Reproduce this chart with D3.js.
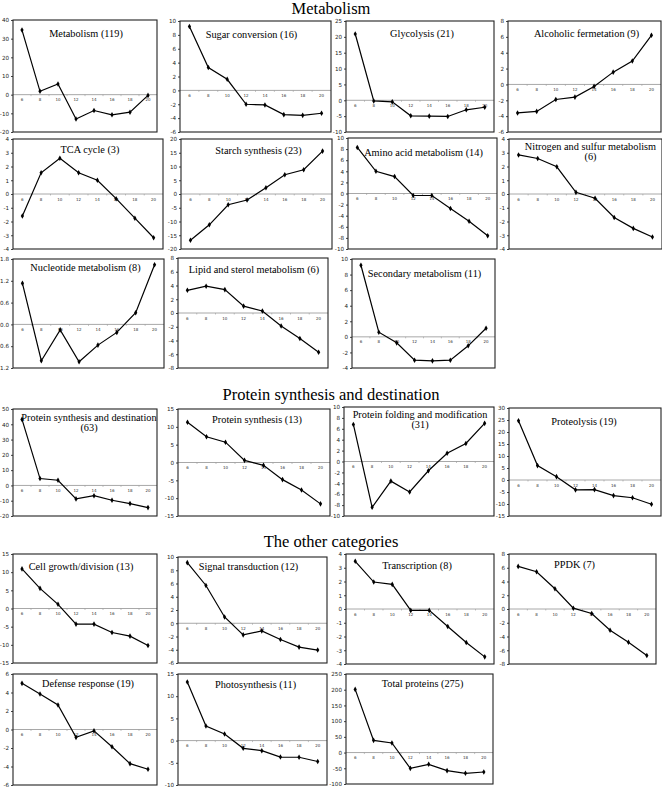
<!DOCTYPE html>
<html><head><meta charset="utf-8">
<script src="https://cdn.jsdelivr.net/npm/d3@7"></script>
<style>body{margin:0;background:#fff}svg{display:block}</style>
</head><body>
<svg id="c" width="662" height="787"></svg>
<script>
// ---- data ----
const timePoints = ["6","8","10","12","14","16","18","20"];
const metabolism   = [34.6, 1.8, 5.7, -13.0, -8.5, -10.8, -9.4, -0.4];
const sugarConv    = [9.2, 3.3, 1.6, -2.0, -2.1, -3.5, -3.6, -3.3];
const glycolysis   = [20.9, -0.2, -0.5, -4.9, -5.0, -5.1, -3.0, -2.2];
const alcoholic    = [-3.6, -3.4, -1.9, -1.6, -0.25, 1.55, 2.95, 6.2];
const tcaCycle     = [-1.6, 1.54, 2.6, 1.54, 1.0, -0.34, -1.76, -3.18];
const starch       = [-16.8, -11.2, -3.9, -2.2, 2.3, 7.0, 8.8, 15.6];
const aminoAcid    = [8.3, 4.0, 3.05, -0.36, -0.36, -2.7, -5.0, -7.6];
const nitrogenSulf = [2.84, 2.58, 1.98, 0.12, -0.31, -1.71, -2.5, -3.13];
const nucleotide   = [1.13, -1.0, -0.15, -1.03, -0.57, -0.22, 0.32, 1.64];
const lipidSterol  = [3.3, 3.9, 3.4, 1.0, 0.3, -1.9, -3.7, -5.7];
const secondary    = [9.2, 0.6, -0.77, -3.0, -3.08, -3.0, -1.15, 1.1];
const protSynDest  = [43.2, 4.5, 3.4, -8.8, -6.7, -9.7, -11.9, -14.5];
const protSynth    = [11.3, 7.2, 5.7, 0.6, -0.8, -4.8, -7.7, -11.6];
const protFolding  = [6.8, -8.4, -3.6, -5.6, -1.7, 1.5, 3.3, 7.0];
const proteolysis  = [24.7, 6.0, 1.4, -4.1, -4.0, -6.5, -7.4, -10.1];
const cellGrowth   = [10.9, 5.55, 1.15, -4.3, -4.3, -6.6, -7.6, -10.2];
const signalTrans  = [9.15, 5.7, 0.95, -1.75, -1.15, -2.45, -3.6, -4.05];
const transcription= [3.47, 1.96, 1.79, -0.1, -0.1, -1.27, -2.44, -3.48];
const ppdk         = [6.2, 5.42, 2.94, 0.12, -0.66, -3.09, -4.84, -6.77];
const defense      = [4.99, 3.84, 2.65, -0.85, -0.15, -1.86, -3.69, -4.3];
const photosynth   = [13.2, 3.3, 1.5, -1.74, -2.27, -3.7, -3.75, -4.7];
const totalProt    = [201, 38.9, 30.4, -50.2, -37.4, -57.5, -66, -61.8];

const sectionTitles = ["Metabolism", "Protein synthesis and destination", "The other categories"];

// ---- layout ----
const sectionY = [14, 400, 547];
const panels = [
  {title:["Metabolism (119)"], v:metabolism, dom:[-20,40], step:10, box:[13,20,157,132], tdx:1, tdy:17},
  {title:["Sugar conversion (16)"], v:sugarConv, dom:[-6,10], step:2, box:[180,21,331,132], tdx:-4, tdy:17},
  {title:["Glycolysis (21)"], v:glycolysis, dom:[-10,25], step:5, box:[346,21,494,132], tdx:2, tdy:16},
  {title:["Alcoholic fermetation (9)"], v:alcoholic, dom:[-6,8], step:2, box:[508,21,661,132], tdx:2, tdy:16},
  {title:["TCA cycle  (3)"], v:tcaCycle, dom:[-4,4], step:1, box:[13,139,163,249], tdx:2, tdy:14},
  {title:["Starch synthesis (23)"], v:starch, dom:[-20,20], step:5, box:[181,139,332,249], tdx:2, tdy:15},
  {title:["Amino acid metabolism (14)"], v:aminoAcid, dom:[-10,10], step:2, box:[348,138,497,249], tdx:1, tdy:18},
  {title:["Nitrogen and sulfur metabolism","(6)"], v:nitrogenSulf, dom:[-4,4], step:1, box:[509,139,662,249], tdx:5, tdy:11},
  {title:["Nucleotide metabolism (8)"], v:nucleotide, dom:[-1.2,1.8], step:0.6, box:[13,259,164,368], tdx:-3, tdy:12, dec:1},
  {title:["Lipid and sterol metabolism (6)"], v:lipidSterol, dom:[-8,8], step:2, box:[178,258,328,368], tdx:1, tdy:15},
  {title:["Secondary metabolism (11)"], v:secondary, dom:[-4,10], step:2, box:[352,259,495,368], tdx:1, tdy:18},
  {title:["Protein synthesis and destination","(63)"], v:protSynDest, dom:[-20,50], step:10, box:[13,409,157,516], tdx:4, tdy:12},
  {title:["Protein synthesis (13)"], v:protSynth, dom:[-15,15], step:5, box:[178,409,330,516], tdx:3, tdy:14},
  {title:["Protein folding and modification","(31)"], v:protFolding, dom:[-10,10], step:2, box:[344,407,494,516], tdx:1, tdy:11},
  {title:["Proteolysis (19)"], v:proteolysis, dom:[-15,30], step:5, box:[509,408,661,516], tdx:-1, tdy:17},
  {title:["Cell growth/division (13)"], v:cellGrowth, dom:[-15,15], step:5, box:[13,554,157,663], tdx:-4, tdy:16},
  {title:["Signal transduction (12)"], v:signalTrans, dom:[-6,10], step:2, box:[178,557,327,663], tdx:-4, tdy:13},
  {title:["Transcription (8)"], v:transcription, dom:[-4,4], step:1, box:[346,554,494,664], tdx:-3, tdy:15},
  {title:["PPDK (7)"], v:ppdk, dom:[-8,8], step:2, box:[509,554,656,664], tdx:-8, tdy:14},
  {title:["Defense response (19)"], v:defense, dom:[-6,6], step:2, box:[13,674,157,785], tdx:3, tdy:13},
  {title:["Photosynthesis (11)"], v:photosynth, dom:[-10,15], step:5, box:[178,674,327,785], tdx:3, tdy:14},
  {title:["Total proteins (275)"], v:totalProt, dom:[-100,250], step:50, box:[346,674,493,784], tdx:3, tdy:13}
];

const svg = d3.select("#c");
const serif = "'Liberation Serif','Times New Roman',serif";
const sans = "'DejaVu Sans',Verdana,sans-serif";

svg.selectAll("text.section").data(sectionTitles).join("text")
  .attr("class","section")
  .attr("x", 331).attr("y", (d,i)=>sectionY[i])
  .attr("text-anchor","middle")
  .attr("font-family", serif).attr("font-size", 16.5).attr("fill","#000")
  .text(d=>d);

panels.forEach(p => {
  const [x0,y0,x1,y1] = p.box;
  const w = x1-x0, h = y1-y0;
  const g = svg.append("g").attr("transform", `translate(${x0},${y0})`);
  const x = d3.scalePoint().domain(timePoints).range([0,w]).padding(0.5);
  const y = d3.scaleLinear().domain(p.dom).range([h,0]);
  const n = Math.round((p.dom[1]-p.dom[0])/p.step);
  const ticks = d3.range(n+1).map(i => +(p.dom[0]+i*p.step).toFixed(3));
  const fmt = p.dec ? (d => Math.abs(d).toFixed(p.dec)) : (d => String(d));

  // y axis
  const ya = g.append("g").call(d3.axisLeft(y).tickValues(ticks).tickSize(2).tickPadding(2).tickFormat(fmt));
  ya.select(".domain").remove();
  ya.selectAll("line").attr("stroke","#444");
  ya.selectAll("text").attr("font-family", sans).attr("font-size", 5.6).attr("fill","#222");

  // zero line
  const z = y(0);
  g.append("line").attr("x1",0).attr("x2",w).attr("y1",z).attr("y2",z)
    .attr("stroke","#a8a8a8").attr("stroke-width",1);
  const bw = w/timePoints.length;
  g.selectAll("line.mk").data(d3.range(1,timePoints.length)).join("line")
    .attr("x1",d=>d*bw).attr("x2",d=>d*bw).attr("y1",z).attr("y2",z+1.5)
    .attr("stroke","#999").attr("stroke-width",0.6);
  g.selectAll("text.xl").data(timePoints).join("text")
    .attr("x", d=>x(d)).attr("y", z+6.5).attr("text-anchor","middle")
    .attr("font-family", sans).attr("font-size", 4).attr("fill","#333")
    .text(d=>d);

  // frame
  g.append("rect").attr("x",0).attr("y",0).attr("width",w).attr("height",h)
    .attr("fill","none").attr("stroke","#222").attr("stroke-width",1.1);

  // line + markers
  const line = d3.line().x((d,i)=>x(timePoints[i])).y(d=>y(d));
  g.append("path").datum(p.v).attr("d", line)
    .attr("fill","none").attr("stroke","#000").attr("stroke-width",1.2);
  g.selectAll("path.pt").data(p.v).join("path")
    .attr("transform",(d,i)=>`translate(${x(timePoints[i])},${y(d)})`)
    .attr("d", d3.symbol(d3.symbolDiamond, 9)).attr("fill","#000");

  // title
  const t = g.append("text").attr("text-anchor","middle")
    .attr("font-family", serif).attr("font-size", 10.3).attr("fill","#000");
  p.title.forEach((s,i) => {
    t.append("tspan").attr("x", w/2 + p.tdx).attr("y", p.tdy + i*10).text(s);
  });
});
</script>
</body></html>
